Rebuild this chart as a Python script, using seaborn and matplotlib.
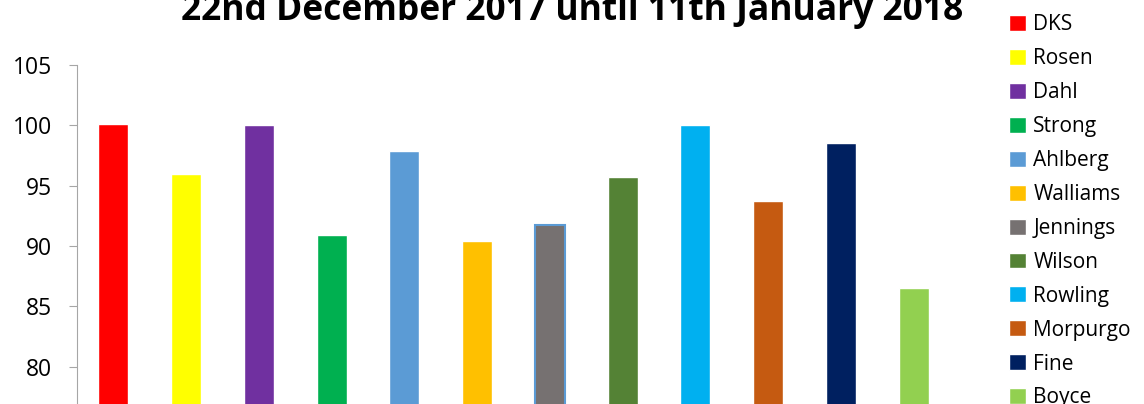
import matplotlib.pyplot as plt
import pandas as pd
import seaborn as sns

authors = ['DKS', 'Rosen', 'Dahl', 'Strong', 'Ahlberg', 'Walliams',
           'Jennings', 'Wilson', 'Rowling', 'Morpurgo', 'Fine', 'Boyce']
scores = [100.1, 96.0, 100.0, 90.9, 97.85, 90.4, 91.7, 95.7, 100.0, 93.7, 98.5, 86.5]
colours = ['#FF0000', '#FFFF00', '#7030A0', '#00B050', '#5B9BD5', '#FFC000',
           '#767171', '#548235', '#00B0F0', '#C55A11', '#002060', '#92D050']

df = pd.DataFrame({'author': authors, 'score': scores})

sns.set_style('white')
plt.rcParams['font.family'] = ['Open Sans', 'DejaVu Sans']
plt.rcParams['text.color'] = 'black'

fig = plt.figure(figsize=(11.44, 4.04), dpi=100)
ax = fig.add_axes([77 / 1144, -23 / 404, 873 / 1144, 362 / 404])

sns.barplot(data=df, x='author', y='score', hue='author',
            palette=dict(zip(authors, colours)), width=0.41,
            saturation=1, legend=True, ax=ax)

# Jennings bar has a light blue outline in the original
for p, a in zip(ax.patches, authors):
    if a == 'Jennings':
        p.set_edgecolor('#5B9BD5')
        p.set_linewidth(1.5)

ax.set_ylim(75, 105)
ax.set_xlim(-0.5, 11.5)
ax.set_yticks([80, 85, 90, 95, 100, 105])
ax.tick_params(axis='y', labelsize=16.5, length=5.8, color='#A6A6A6',
               labelcolor='black', left=True, pad=12)
ax.set_xticks([])
ax.set_xlabel('')
ax.set_ylabel('')
for s in ['top', 'right', 'bottom']:
    ax.spines[s].set_visible(False)
ax.spines['left'].set_color('#A6A6A6')

sns.move_legend(ax, 'upper left', bbox_to_anchor=(1001 / 1144, 1 - 6 / 404),
                bbox_transform=fig.transFigure, frameon=False, title=None,
                fontsize=15, handlelength=0.8, handleheight=0.8,
                handletextpad=0.35, labelspacing=0.62, borderaxespad=0)

fig.text(0.5, 1 - 20 / 404, '22nd December 2017 until 11th January 2018',
         ha='center', va='baseline', fontsize=25.5, fontweight='bold')

plt.savefig('out.png', dpi=100)
